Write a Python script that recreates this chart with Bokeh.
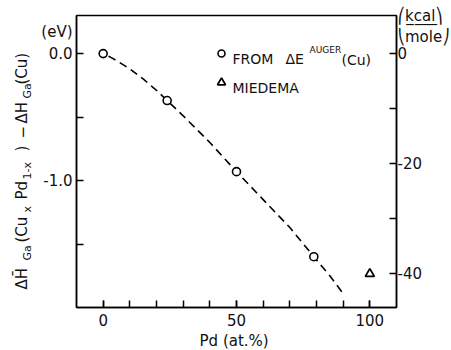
import math
from bokeh.plotting import figure
from bokeh.layouts import row
from bokeh.models import Range1d, LinearAxis, FixedTicker, CustomJSTickFormatter, Label
from bokeh.core.properties import value
from bokeh.embed import file_html
from bokeh.resources import INLINE

# ---------------- data ----------------
pd_auger = [0, 24, 50, 79]                 # Pd at.%
dh_auger = [0.0, -0.37, -0.93, -1.60]      # eV
pd_miedema = [100]
dh_miedema_kcal = [-40.0]                  # kcal/mole
curve_pd = [2, 5, 10, 15, 20, 24, 30, 35, 40, 45, 50, 60, 70, 79, 85, 90]
curve_dh = [-0.02, -0.055, -0.12, -0.20, -0.29, -0.37, -0.49, -0.595, -0.70, -0.815, -0.93,
            -1.15, -1.37, -1.60, -1.75, -1.89]
x_ticks = [0, 50, 100]
x_minor = [0, 10, 20, 30, 40, 50, 60, 70, 80, 90, 100]
y_ticks = [0.0, -1.0]
y_minor = [0.0, -0.5, -1.0, -1.5]
k_ticks = [0, -20, -40]
k_minor = [0, -10, -20, -30, -40]
EV_TO_KCAL = 23.06

X0, X1 = -10, 110
Y0, Y1 = -2.0, 0.3
FONT = "DejaVu Sans"

# page geometry (image pixels)
TOTAL_W, TOTAL_H = 451, 350
LW = 38                                  # width of the y-title strip
IL, IR, IT, IB = 74, 394, 15, 307        # plot frame in image pixels


def dx(px):
    return (px - IL) / (IR - IL) * (X1 - X0) + X0


def dy(py):
    return Y1 - (py - IT) / (IB - IT) * (Y1 - Y0)


ev_label_pos = dy(31)
kcal_label_pos = dy(26) * EV_TO_KCAL

p = figure(frame_width=IR - IL, frame_height=IB - IT, output_backend="svg",
           toolbar_location=None,
           x_range=Range1d(X0, X1), y_range=Range1d(Y0, Y1),
           min_border_left=IL - LW, min_border_right=TOTAL_W - IR, min_border_top=IT,
           min_border_bottom=TOTAL_H - IB)
p.extra_y_ranges = {"kcal": Range1d(Y0 * EV_TO_KCAL, Y1 * EV_TO_KCAL)}
p.xgrid.visible = False
p.ygrid.visible = False
p.outline_line_color = "black"
p.outline_line_width = 1.5

right = LinearAxis(y_range_name="kcal")
p.add_layout(right, "right")


def style(ax, major_len=7):
    ax.axis_line_color = "black"
    ax.axis_line_width = 1.5
    ax.major_tick_in = major_len
    ax.major_tick_out = 0
    ax.minor_tick_in = 7
    ax.minor_tick_out = 0
    ax.major_tick_line_width = 1.5
    ax.minor_tick_line_width = 1.5
    ax.major_tick_line_color = "black"
    ax.minor_tick_line_color = "black"
    ax.major_label_text_font = FONT
    ax.major_label_text_font_size = "15px"
    ax.major_label_text_color = "#111111"
    ax.major_label_standoff = 4


xa = p.xaxis[0]
style(xa)
xa.ticker = FixedTicker(ticks=x_ticks, minor_ticks=x_minor)
xa.major_label_standoff = 6
xa.axis_label = "Pd  (at.%)"
xa.axis_label_text_font = FONT
xa.axis_label_text_font_style = "normal"
xa.axis_label_text_font_size = "15px"
xa.axis_label_text_color = "#111111"
xa.axis_label_standoff = 3

ya = p.yaxis[0]
style(ya, major_len=0)
ya.ticker = FixedTicker(ticks=y_ticks + [ev_label_pos], minor_ticks=y_minor)
ya.formatter = CustomJSTickFormatter(
    code="if (tick > 0.1) { return '(eV)'; } return tick.toFixed(1);")

style(right, major_len=0)
right.ticker = FixedTicker(ticks=k_ticks + [kcal_label_pos], minor_ticks=k_minor)
right.formatter = CustomJSTickFormatter(
    code="if (tick > 1) { return '\u239bk\u0332c\u0332a\u0332l\u0332\u239e\\n\u239dmole\u23a0'; } "
         "return tick.toFixed(0);")
right.major_label_standoff = 1

# ---------------- marks ----------------
p.line(curve_pd, curve_dh, line_color="black", line_width=1.6, line_dash="8 5")
p.scatter(pd_auger, dh_auger, marker="circle", size=8, line_color="black",
          line_width=1.6, fill_color="white")
p.scatter(pd_miedema, dh_miedema_kcal, y_range_name="kcal", marker="triangle", size=9,
          line_color="black", line_width=1.8, fill_color="white")


def lab(fig, text, x, y, size, align="left", baseline="alphabetic", angle=0.0):
    fig.add_layout(Label(x=x, y=y, text=text, text_font=FONT,
                         text_font_size=f"{size}px", text_align=align,
                         text_baseline=baseline, angle=angle, text_color="#111111"))


# legend (inside the frame)
p.scatter([dx(219)], [dy(53)], marker="circle", size=7, line_color="black",
          line_width=1.6, fill_color="white")
p.scatter([dx(219)], [dy(82)], marker="triangle", size=8, line_color="black",
          line_width=1.8, fill_color="white")
lab(p, "FROM", dx(230), dy(58), 14)
lab(p, "ΔE", dx(283), dy(58), 14)
lab(p, "AUGER", dx(307), dy(49), 9)
lab(p, "(Cu)", dx(339), dy(59), 14)
lab(p, "MIEDEMA", dx(230), dy(87), 14)

# ---------------- y-axis title strip ----------------
t = figure(frame_width=LW, frame_height=TOTAL_H, output_backend="svg",
           toolbar_location=None,
           x_range=Range1d(0, LW), y_range=Range1d(0, TOTAL_H),
           x_axis_location=None, y_axis_location=None,
           min_border=0, min_border_left=0, min_border_right=0,
           min_border_top=0, min_border_bottom=0)
t.xgrid.visible = False
t.ygrid.visible = False
t.outline_line_color = None

# (text, start pixel from top of page, subscript?)
pieces = [("ΔH\u0304", 274, False), ("Ga", 245, True), ("(Cu", 227, False),
          ("x", 197, True), ("Pd", 184, False), ("1-x", 164, True), (")", 136, False),
          ("−", 123, False), ("ΔH", 108, False), ("Ga", 83, True), ("(Cu)", 69, False)]
MAIN_BASE, SUB_BASE = 21, 27
for txt, start, sub in pieces:
    t.text(x=[SUB_BASE if sub else MAIN_BASE], y=[TOTAL_H - start], text=[txt],
           angle=math.pi / 2, text_font=value(FONT),
           text_font_size="11px" if sub else "15px",
           text_align="left", text_baseline="alphabetic", text_color="#111111")

layout = row(t, p)
open("out.html", "w").write(file_html(layout, INLINE))
